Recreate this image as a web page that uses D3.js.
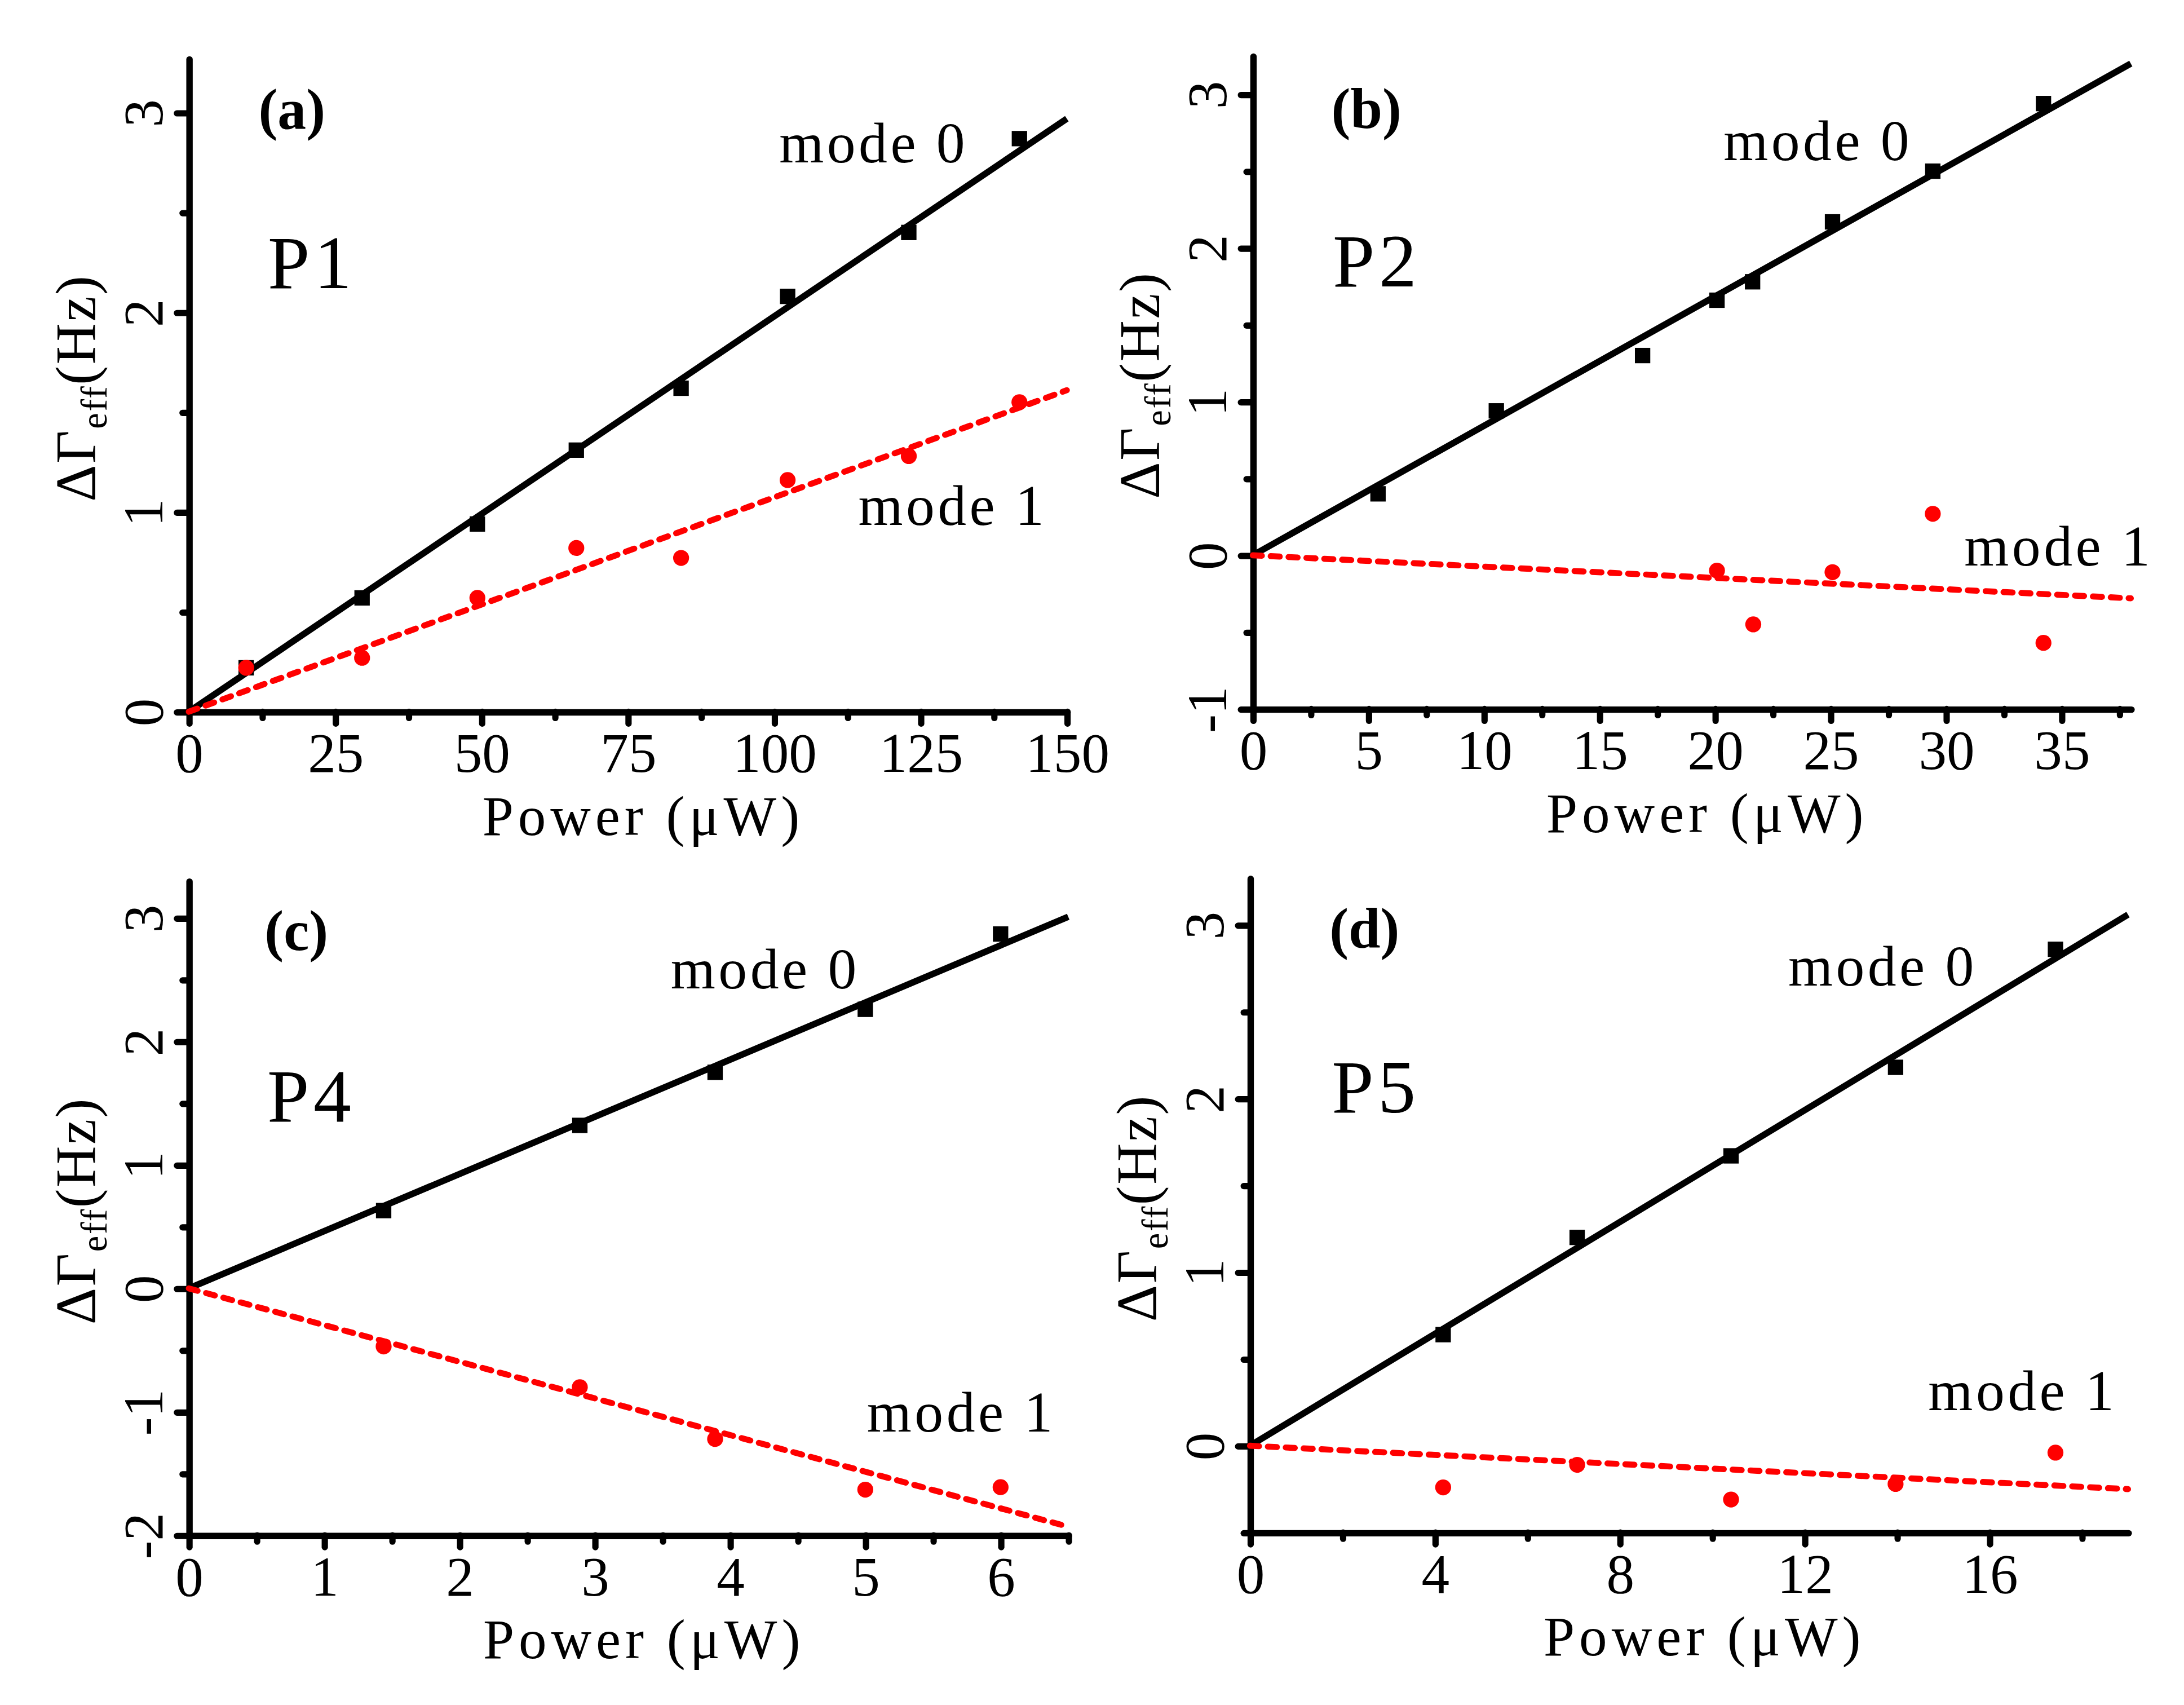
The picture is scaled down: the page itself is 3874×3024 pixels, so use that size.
<!DOCTYPE html>
<html>
<head>
<meta charset="utf-8">
<script src="https://cdn.jsdelivr.net/npm/d3@7"></script>
<style>
  html, body { margin: 0; background: #fff; }
</style>
</head>
<body>
<svg id="chart"></svg>
<script>
// (a) P1
const powerA = [9.8, 29.6, 49.3, 66.2, 84.1, 102.3, 123.0, 141.9];
const mode0A = [0.22, 0.57, 0.94, 1.31, 1.62, 2.08, 2.40, 2.87];
const mode1A = [0.22, 0.27, 0.57, 0.82, 0.77, 1.16, 1.28, 1.55];
const fitXA = [0, 150];
const fit0A = [0, 2.97];
const fit1A = [0, 1.61];

// (b) P2
const powerB = [5.42, 10.54, 16.87, 20.09, 21.63, 25.09, 29.43, 34.22];
const mode0B = [0.40, 0.94, 1.30, 1.66, 1.78, 2.17, 2.50, 2.94];
const powerB1 = [20.09, 21.66, 25.09, 29.43, 34.22];
const mode1B = [-0.10, -0.45, -0.11, 0.27, -0.57];
const fitXB = [0, 38];
const fit0B = [0, 3.20];
const fit1B = [0, -0.28];

// (c) P4
const powerC = [1.44, 2.89, 3.89, 5.0, 6.0];
const mode0C = [0.63, 1.32, 1.75, 2.26, 2.87];
const mode1C = [-0.47, -0.80, -1.22, -1.63, -1.61];
const fitXC = [0, 6.5];
const fit0C = [0, 3.01];
const fit1C = [0, -1.93];

// (d) P5
const powerD = [4.18, 7.08, 10.41, 13.97, 17.43];
const mode0D = [0.64, 1.20, 1.67, 2.18, 2.86];
const mode1D = [-0.24, -0.11, -0.31, -0.22, -0.04];
const fitXD = [0, 19];
const fit0D = [0, 3.06];
const fit1D = [0, -0.25];

// tick labels
const xTicksA = [0, 25, 50, 75, 100, 125, 150];
const xMinorA = [12.5, 37.5, 62.5, 87.5, 112.5, 137.5];
const yTicksA = [0, 1, 2, 3];
const yMinorA = [0.5, 1.5, 2.5];
const xTicksB = [0, 5, 10, 15, 20, 25, 30, 35];
const xMinorB = [2.5, 7.5, 12.5, 17.5, 22.5, 27.5, 32.5, 37.5];
const yTicksB = [-1, 0, 1, 2, 3];
const yMinorB = [-0.5, 0.5, 1.5, 2.5];
const xTicksC = [0, 1, 2, 3, 4, 5, 6];
const xMinorC = [0.5, 1.5, 2.5, 3.5, 4.5, 5.5, 6.5];
const yTicksC = [-2, -1, 0, 1, 2, 3];
const yMinorC = [-1.5, -0.5, 0.5, 1.5, 2.5];
const xTicksD = [0, 4, 8, 12, 16];
const xMinorD = [2, 6, 10, 14, 18];
const yTicksD = [0, 1, 2, 3];
const yMinorD = [-0.5, 0.5, 1.5, 2.5];

const panels = [
  { tag: "(a)", name: "P1", x0: powerA, y0: mode0A, x1: powerA, y1: mode1A,
    fx: fitXA, f0: fit0A, f1: fit1A,
    xDomain: [0, 150], yDomain: [0, 3.27], box: [135, 763, 509, 42],
    xTicks: xTicksA, xMinor: xMinorA, yTicks: yTicksA, yMinor: yMinorA,
    tagAt: [11.9, 2.92], nameAt: [13.5, 2.12], m0At: [117, 2.75], m1At: [130.5, 0.935] },
  { tag: "(b)", name: "P2", x0: powerB, y0: mode0B, x1: powerB1, y1: mode1B,
    fx: fitXB, f0: fit0B, f1: fit1B,
    xDomain: [0, 38], yDomain: [-1, 3.25], box: [896, 1524, 507, 40],
    xTicks: xTicksB, xMinor: xMinorB, yTicks: yTicksB, yMinor: yMinorB,
    tagAt: [3.4, 2.78], nameAt: [3.46, 1.75], m0At: [24.46, 2.57], m1At: [34.88, -0.065] },
  { tag: "(c)", name: "P4", x0: powerC, y0: mode0C, x1: powerC, y1: mode1C,
    fx: fitXC, f0: fit0C, f1: fit1C,
    xDomain: [0, 6.5], yDomain: [-2, 3.3], box: [135, 764, 1098, 630],
    xTicks: xTicksC, xMinor: xMinorC, yTicks: yTicksC, yMinor: yMinorC,
    tagAt: [0.56, 2.74], nameAt: [0.58, 1.35], m0At: [4.26, 2.43], m1At: [5.71, -1.16] },
  { tag: "(d)", name: "P5", x0: powerD, y0: mode0D, x1: powerD, y1: mode1D,
    fx: fitXD, f0: fit0D, f1: fit1D,
    xDomain: [0, 19], yDomain: [-0.5, 3.27], box: [894, 1522, 1096, 628],
    xTicks: xTicksD, xMinor: xMinorD, yTicks: yTicksD, yMinor: yMinorD,
    tagAt: [1.72, 2.87], nameAt: [1.77, 1.92], m0At: [13.69, 2.65], m1At: [16.72, 0.204] }
];

const font = "'Liberation Serif', 'Times New Roman', serif";
const W = 1562, H = 1219.35;
const svg = d3.select("#chart")
  .attr("width", 3874)
  .attr("height", 3024)
  .attr("viewBox", `0 0 ${W} ${H}`)
  .style("display", "block")
  .style("background", "#fff");

const styleAxis = g => {
  g.attr("font-family", font).attr("font-size", 40);
  g.select(".domain").attr("stroke", "#000").attr("stroke-width", 4.6).attr("stroke-linecap", "round");
  g.selectAll(".tick line").attr("stroke", "#000").attr("stroke-width", 4.5).attr("stroke-linecap", "round");
};

panels.forEach(p => {
  const [left, right, bottom, top] = p.box;
  const x = d3.scaleLinear().domain(p.xDomain).range([left, right]);
  const y = d3.scaleLinear().domain(p.yDomain).range([bottom, top]);
  const g = svg.append("g");

  // minor ticks
  g.append("g")
    .attr("transform", `translate(0,${bottom})`)
    .call(d3.axisBottom(x).tickValues(p.xMinor).tickSize(4.5).tickSizeOuter(0).tickFormat(""))
    .call(styleAxis)
    .call(a => a.select(".domain").remove());
  g.append("g")
    .attr("transform", `translate(${left},0)`)
    .call(d3.axisLeft(y).tickValues(p.yMinor).tickSize(4.5).tickSizeOuter(0).tickFormat(""))
    .call(styleAxis)
    .call(a => a.select(".domain").remove());

  // major axes
  g.append("g")
    .attr("transform", `translate(0,${bottom})`)
    .call(d3.axisBottom(x).tickValues(p.xTicks).tickSize(8.5).tickSizeOuter(0).tickFormat(d => String(d)))
    .call(styleAxis)
    .call(a => a.selectAll(".tick text").attr("fill", "#000").attr("dy", null).attr("y", 43));
  g.append("g")
    .attr("transform", `translate(${left},0)`)
    .call(d3.axisLeft(y).tickValues(p.yTicks).tickSize(8.5).tickSizeOuter(0).tickFormat(d => String(d)))
    .call(styleAxis)
    .call(a => a.selectAll(".tick text")
      .attr("fill", "#000")
      .attr("x", null).attr("dy", null)
      .attr("text-anchor", "middle")
      .attr("transform", "translate(-19,0) rotate(-90)"));

  // axis titles
  g.append("text")
    .attr("x", (left + right) / 2 + 11)
    .attr("y", bottom + 88)
    .attr("text-anchor", "middle")
    .attr("font-family", font)
    .attr("font-size", 40)
    .attr("letter-spacing", 3.2)
    .text("Power (\u03bcW)");

  const yt = g.append("text")
    .attr("transform", `translate(${left - 67},${(top + bottom) / 2 + 2}) rotate(-90)`)
    .attr("text-anchor", "middle")
    .attr("font-family", font)
    .attr("font-size", 41)
    .attr("letter-spacing", 1);
  yt.append("tspan").text("\u0394\u0393");
  yt.append("tspan").attr("font-size", 26).attr("dy", 8).text("eff");
  yt.append("tspan").attr("dy", -8).text("(Hz)");

  // fit lines
  const line = d3.line().x(d => x(d[0])).y(d => y(d[1]));
  g.append("path")
    .datum(p.fx.map((v, i) => [v, p.f0[i]]))
    .attr("d", line)
    .attr("fill", "none")
    .attr("stroke", "#000")
    .attr("stroke-width", 4.6);
  g.append("path")
    .datum(p.fx.map((v, i) => [v, p.f1[i]]))
    .attr("d", line)
    .attr("fill", "none")
    .attr("stroke", "#ff0000")
    .attr("stroke-width", 4.3)
    .attr("stroke-linecap", "round")
    .attr("stroke-dasharray", "6.5,6.3");

  // data points
  const sq = 11;
  g.selectAll(".sq")
    .data(p.x0.map((v, i) => [v, p.y0[i]]))
    .enter()
    .append("rect")
    .attr("x", d => x(d[0]) - sq / 2)
    .attr("y", d => y(d[1]) - sq / 2)
    .attr("width", sq)
    .attr("height", sq)
    .attr("fill", "#000");
  g.selectAll(".dot")
    .data(p.x1.map((v, i) => [v, p.y1[i]]))
    .enter()
    .append("circle")
    .attr("cx", d => x(d[0]))
    .attr("cy", d => y(d[1]))
    .attr("r", 5.7)
    .attr("fill", "#ff0000");

  // annotations
  g.append("text")
    .attr("x", x(p.tagAt[0])).attr("y", y(p.tagAt[1]))
    .attr("font-family", font).attr("font-size", 41).attr("font-weight", "bold")
    .text(p.tag);
  g.append("text")
    .attr("x", x(p.nameAt[0])).attr("y", y(p.nameAt[1]))
    .attr("font-family", font).attr("font-size", 54).attr("letter-spacing", 3)
    .text(p.name);
  g.append("text")
    .attr("x", x(p.m0At[0])).attr("y", y(p.m0At[1]))
    .attr("text-anchor", "middle")
    .attr("font-family", font).attr("font-size", 41).attr("letter-spacing", 2.2)
    .text("mode 0");
  g.append("text")
    .attr("x", x(p.m1At[0])).attr("y", y(p.m1At[1]))
    .attr("text-anchor", "middle")
    .attr("font-family", font).attr("font-size", 41).attr("letter-spacing", 2.2)
    .text("mode 1");
});
</script>
</body>
</html>
